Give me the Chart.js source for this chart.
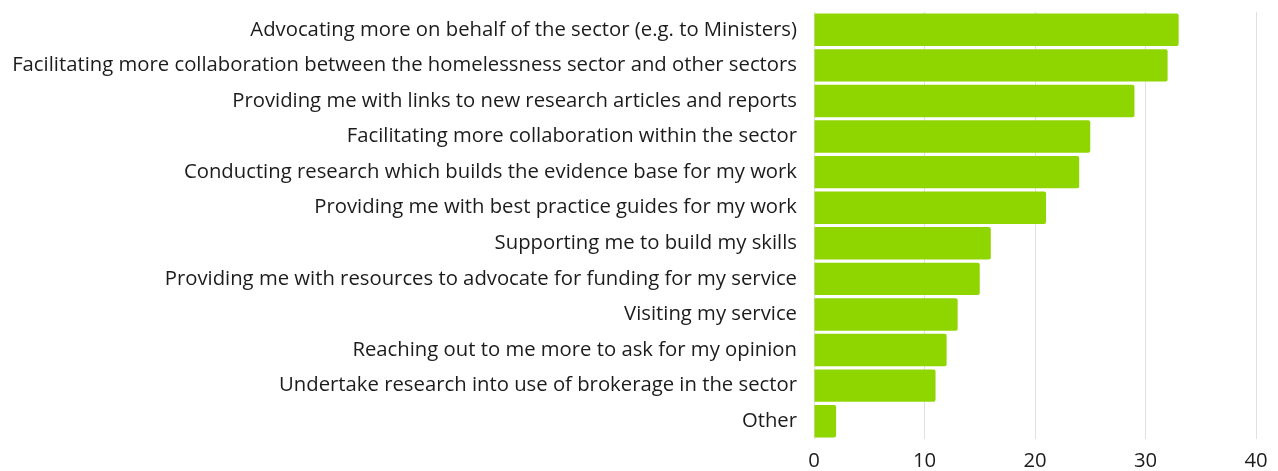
<!DOCTYPE html>
<html>
<head>
<meta charset="utf-8">
<script src="https://cdn.jsdelivr.net/npm/chart.js@4.4.1/dist/chart.umd.min.js"></script>
<style>
  html, body { margin: 0; padding: 0; background: #fff; }
  #wrap { width: 1278px; height: 471px; position: relative; }
</style>
</head>
<body>
<div id="wrap"><canvas id="chart"></canvas></div>
<script>
const categories = [
    'Advocating more on behalf of the sector (e.g. to Ministers)',
    'Facilitating more collaboration between the homelessness sector and other sectors',
    'Providing me with links to new research articles and reports',
    'Facilitating more collaboration within the sector',
    'Conducting research which builds the evidence base for my work',
    'Providing me with best practice guides for my work',
    'Supporting me to build my skills',
    'Providing me with resources to advocate for funding for my service',
    'Visiting my service',
    'Reaching out to me more to ask for my opinion',
    'Undertake research into use of brokerage in the sector',
    'Other'
];
const responses = [33, 32, 29, 25, 24, 21, 16, 15, 13, 12, 11, 2];
const xTicks = [0, 10, 20, 30, 40];

const labelFont = { family: "'Open Sans', sans-serif", size: 20.3 };

new Chart(document.getElementById('chart'), {
    type: 'bar',
    data: {
        labels: categories,
        datasets: [{
            data: responses,
            backgroundColor: '#8fd600',
            borderRadius: 2,
            barPercentage: 0.91,
            categoryPercentage: 1.0
        }]
    },
    options: {
        indexAxis: 'y',
        responsive: true,
        maintainAspectRatio: false,
        animation: false,
        layout: { padding: { top: 12, right: 22, bottom: 0, left: 0 } },
        plugins: { legend: { display: false }, tooltip: { enabled: false } },
        scales: {
            x: {
                min: 0,
                max: 40,
                afterBuildTicks: scale => { scale.ticks = xTicks.map(v => ({ value: v })); },
                grid: { color: '#e0e0e0', drawTicks: false },
                border: { display: false },
                ticks: { color: '#1c1c1c', font: labelFont, padding: 10 },
                afterFit: scale => { scale.height = 32; scale.paddingLeft = 0; scale.paddingRight = 0; }
            },
            y: {
                grid: { display: false, drawTicks: false },
                border: { display: false },
                ticks: { color: '#1c1c1c', font: labelFont, padding: 17, autoSkip: false },
                afterFit: scale => { scale.width = 814; scale.paddingTop = 0; scale.paddingBottom = 0; }
            }
        }
    }
});
</script>
</body>
</html>
